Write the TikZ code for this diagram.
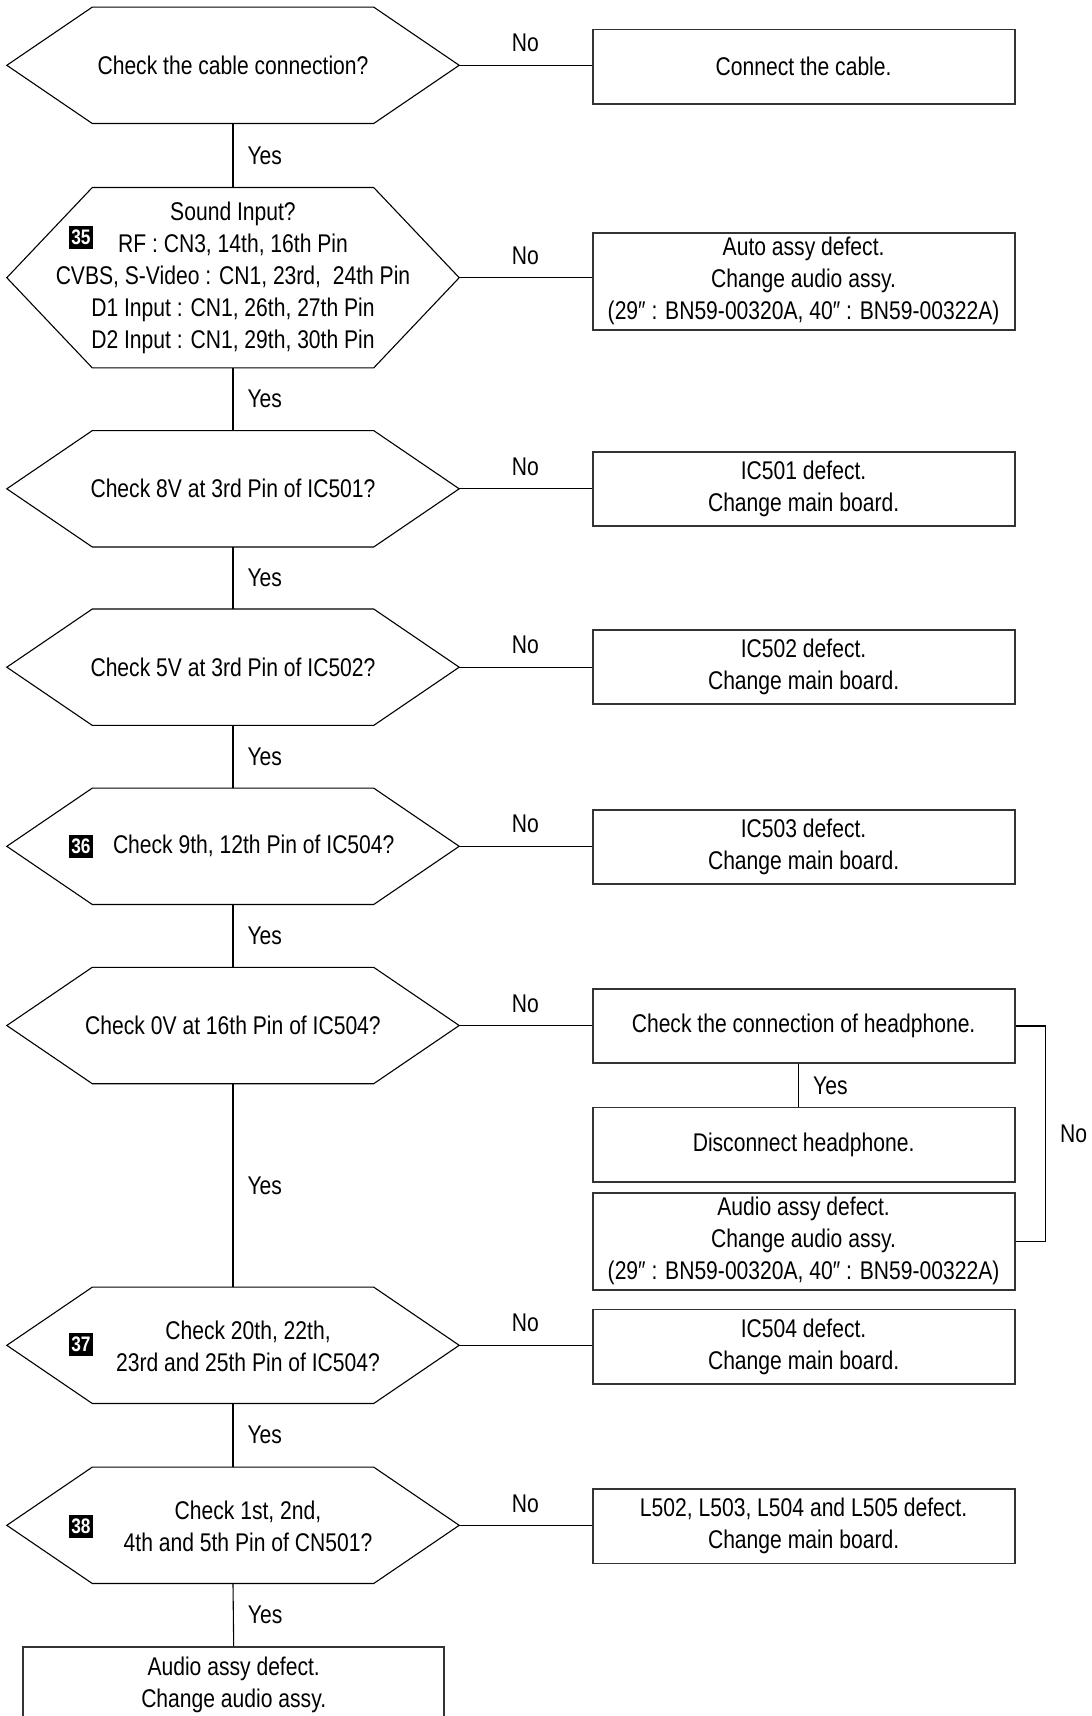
\documentclass[tikz,border=0pt]{standalone}
\usepackage{fontspec}
\setmainfont{Liberation Sans}[FakeStretch=0.824]
\begin{document}
\begin{tikzpicture}[x=1pt,y=-1pt,
  every node/.style={font=\fontsize{25.6pt}{32pt}\selectfont, inner sep=0pt},
  hexbox/.style={minimum width=452pt, minimum height=#1, draw=none, align=center},
  hexbox/.default=116pt,
  rbox/.style={draw=black!80, line width=1.8pt, minimum width=422pt, minimum height=74.3pt, align=center},
  txt/.style={align=center},
  badge/.style={fill=black, text=white, minimum width=24pt, minimum height=23pt, font=\fontsize{21pt}{21pt}\selectfont\bfseries},
  link/.style={line width=1.1pt},
  hexline/.style={line width=1.1pt, line join=miter},
  yeslbl/.style={anchor=west, xshift=14pt},
  nolbl/.style={yshift=22pt}
]
\useasboundingbox (0,0) rectangle (1092,1716);
\clip (0,0) rectangle (1092,1716);

% decision nodes
\node[hexbox] (h1) at (233,65.3) {Check the cable connection?};
\node[hexbox=180pt] (h2) at (233,277.7) {Sound Input?\\RF : CN3, 14th, 16th Pin\\CVBS, S-Video : CN1, 23rd,\ \ 24th Pin\\D1 Input : CN1, 26th, 27th Pin\\D2 Input : CN1, 29th, 30th Pin};
\node[hexbox] (h3) at (233,488.8) {Check 8V at 3rd Pin of IC501?};
\node[hexbox] (h4) at (233,667.2) {Check 5V at 3rd Pin of IC502?};
\node[hexbox] (h5) at (233,846.3) {};
\node[hexbox] (h6) at (233,1025.5) {Check 0V at 16th Pin of IC504?};
\node[hexbox] (h7) at (233,1345.3) {};
\node[hexbox] (h8) at (233,1525.3) {};

\foreach \n in {h1,h2,h3,h4,h5,h6,h7,h8}
  \draw[hexline] (\n.west) -- ([xshift=85.5pt]\n.north west) -- ([xshift=-85.5pt]\n.north east)
    -- (\n.east) -- ([xshift=-85.5pt]\n.south east) -- ([xshift=85.5pt]\n.south west) -- cycle;

% texts and badges inside decisions
\node[badge] (k35) at (81,237) {35};
\node[txt, anchor=west] (t5) at (112.8,846.3) {Check 9th, 12th Pin of IC504?};
\node[badge] (k36) at (81,846.3) {36};
\node[txt] (t7) at (248,1345.9) {Check 20th, 22th,\\23rd and 25th Pin of IC504?};
\node[badge] (k37) at (81,1344.5) {37};
\node[txt] (t8) at (248,1525.9) {Check 1st, 2nd,\\4th and 5th Pin of CN501?};
\node[badge] (k38) at (81,1526.5) {38};

% action boxes
\node[rbox] (b1) at (803.6,66.7) {Connect the cable.};
\node[rbox, minimum height=97.3pt] (b2) at (803.6,281.3) {Auto assy defect.\\Change audio assy.\\(29″ : BN59-00320A, 40″ : BN59-00322A)};
\node[rbox] (b3) at (803.6,488.8) {IC501 defect.\\Change main board.};
\node[rbox] (b4) at (803.6,667.2) {IC502 defect.\\Change main board.};
\node[rbox] (b5) at (803.6,847) {IC503 defect.\\Change main board.};
\node[rbox] (b6) at (803.6,1026) {Check the connection of headphone.};
\node[rbox] (b7) at (803.6,1144.7) {Disconnect headphone.};
\node[rbox, minimum height=97.3pt] (b8) at (803.6,1241.3) {Audio assy defect.\\Change audio assy.\\(29″ : BN59-00320A, 40″ : BN59-00322A)};
\node[rbox] (b9) at (803.6,1346.7) {IC504 defect.\\Change main board.};
\node[rbox] (b10) at (803.6,1526.3) {L502, L503, L504 and L505 defect.\\Change main board.};
\node[rbox, minimum width=421.3pt, minimum height=75pt] (bf) at (233.7,1684.5) {Audio assy defect.\\Change audio assy.};

% Yes connectors
\draw[link] (h1.south) -- node[yeslbl]{Yes} (h2.north);
\draw[link] (h2.south) -- node[yeslbl]{Yes} (h3.north);
\draw[link] (h3.south) -- node[yeslbl]{Yes} (h4.north);
\draw[link] (h4.south) -- node[yeslbl]{Yes} (h5.north);
\draw[link] (h5.south) -- node[yeslbl]{Yes} (h6.north);
\draw[link] (h6.south) -- node[yeslbl]{Yes} (h7.north);
\draw[link] (h7.south) -- node[yeslbl]{Yes} (h8.north);
\draw[link] (h8.south) -- node[yeslbl]{Yes} (bf.north);

% No connectors
\draw[link] (h1.east) -- node[nolbl]{No} (h1.east -| b1.west);
\draw[link] (h2.east) -- node[nolbl]{No} (h2.east -| b2.west);
\draw[link] (h3.east) -- node[nolbl]{No} (h3.east -| b3.west);
\draw[link] (h4.east) -- node[nolbl]{No} (h4.east -| b4.west);
\draw[link] (h5.east) -- node[nolbl]{No} (h5.east -| b5.west);
\draw[link] (h6.east) -- node[nolbl]{No} (h6.east -| b6.west);
\draw[link] (h7.east) -- node[nolbl]{No} (h7.east -| b9.west);
\draw[link] (h8.east) -- node[nolbl]{No} (h8.east -| b10.west);

% headphone branch
\draw[link] ([xshift=-5pt]b6.south) -- node[yeslbl]{Yes} ([xshift=-5pt]b6.south |- b7.north);
\draw[link] (b6.east) -- ++(30,0) |- node[pos=0.25, yeslbl]{No} (b8.east);
\end{tikzpicture}
\end{document}
